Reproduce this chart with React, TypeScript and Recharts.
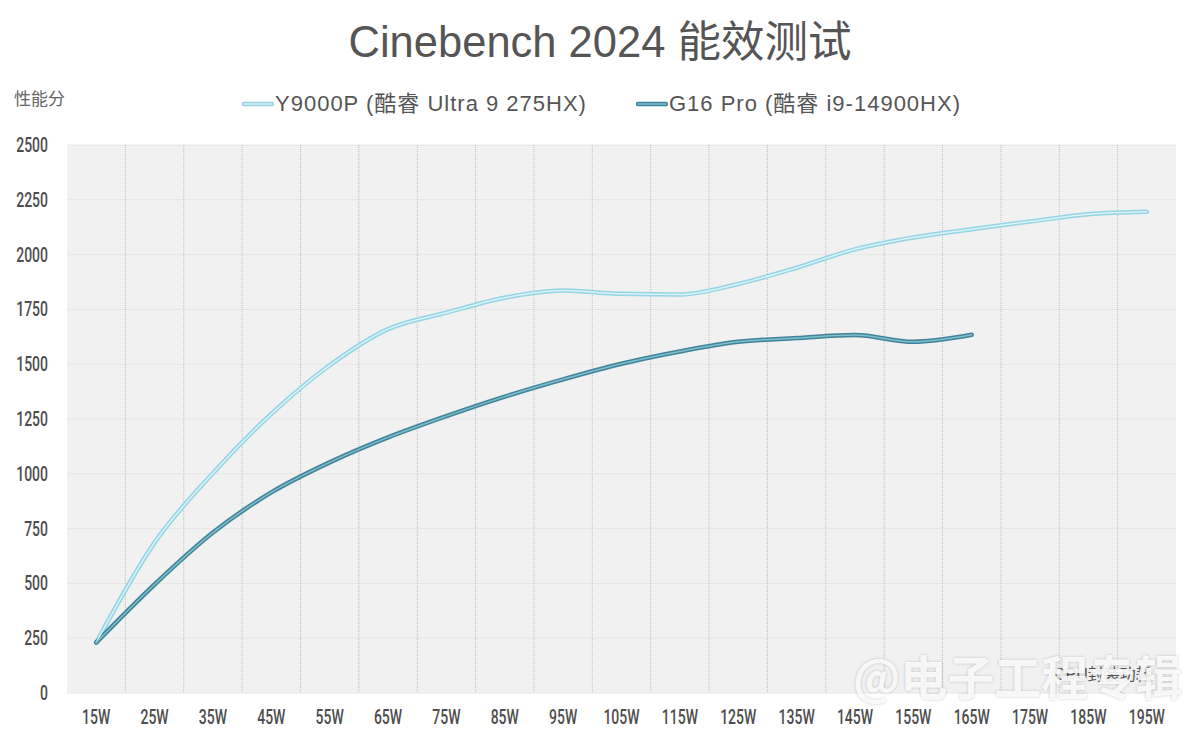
import React from 'react';
import { LineChart, Line, XAxis, YAxis, CartesianGrid } from 'recharts';

const powerLevels = ['15W', '25W', '35W', '45W', '55W', '65W', '75W', '85W', '95W', '105W', '115W', '125W', '135W', '145W', '155W', '165W', '175W', '185W', '195W'];
const y9000pScores = [230, 686, 1003, 1273, 1495, 1660, 1735, 1803, 1836, 1821, 1818, 1866, 1940, 2024, 2078, 2116, 2151, 2184, 2195];
const g16ProScores = [230, 495, 732, 915, 1052, 1166, 1263, 1352, 1431, 1502, 1558, 1602, 1619, 1633, 1602, 1634, null, null, null];
const yTicks = [0, 250, 500, 750, 1000, 1250, 1500, 1750, 2000, 2250, 2500];

const seriesInfo = [
  { key: 'y9000p', name: 'Y9000P (酷睿 Ultra 9 275HX)', outer: '#93d4e6', inner: '#dcf3f8', legendX: 242 },
  { key: 'g16', name: 'G16 Pro (酷睿 i9-14900HX)', outer: '#3f8499', inner: '#80bdce', legendX: 636 },
];

const data = powerLevels.map((p, i) => ({
  power: p,
  y9000p: y9000pScores[i],
  g16: g16ProScores[i],
}));

const CHART_W = 1200;
const CHART_H = 740;
const MARGIN = { top: 145, right: 24, bottom: 0, left: 0 };
const Y_AXIS_W = 67;
const X_AXIS_H = 47;
const plotWidth = CHART_W - MARGIN.left - MARGIN.right - Y_AXIS_W;
const halfBand = plotWidth / powerLevels.length / 2;

const uiFont = '"Liberation Sans", "Noto Sans CJK SC", sans-serif';

// narrow, DIN-like tick labels
function CondensedTick({ x, y, payload, anchor, dy }: any) {
  return (
    <g transform={`translate(${x},${y})`}>
      <text
        transform="scale(0.7,1)"
        textAnchor={anchor}
        dy={dy}
        fill="#4d4d4d"
        fontFamily="Roboto, sans-serif"
        fontWeight={500}
        fontSize={20}
      >
        {payload.value}
      </text>
    </g>
  );
}

export default function App() {
  return (
    <div style={{ position: 'absolute', left: 0, top: 0, width: CHART_W, height: CHART_H, background: '#fff', overflow: 'hidden' }}>
      <div style={{ position: 'absolute', top: 21, width: CHART_W, textAlign: 'center', fontFamily: uiFont, fontSize: 43.5, lineHeight: 1, color: '#555' }}>
        Cinebench 2024 能效测试
      </div>
      <div style={{ position: 'absolute', left: 14, top: 91, fontFamily: uiFont, fontSize: 17, lineHeight: 1, color: '#666' }}>
        性能分
      </div>
      {seriesInfo.map((s) => (
        <div key={s.key} style={{ position: 'absolute', left: s.legendX, top: 93, display: 'flex', alignItems: 'center', fontFamily: uiFont, fontSize: 22, lineHeight: 1, letterSpacing: 1, color: '#555', whiteSpace: 'nowrap' }}>
          <svg width={32} height={10} style={{ marginRight: 1 }}>
            <line x1={2} y1={5} x2={30} y2={5} stroke={s.outer} strokeWidth={4.5} strokeLinecap="round" />
            <line x1={2} y1={5} x2={30} y2={5} stroke={s.inner} strokeWidth={1.5} strokeLinecap="round" />
          </svg>
          <span>{s.name}</span>
        </div>
      ))}
      <LineChart width={CHART_W} height={CHART_H} data={data} margin={MARGIN}>
        <CartesianGrid vertical={false} stroke="#e6e6e6" fill="#f1f1f1" />
        <CartesianGrid
          horizontal={false}
          stroke="#bdbdbd"
          strokeDasharray="1 1"
          verticalCoordinatesGenerator={({ offset }: any) =>
            powerLevels.slice(1).map((_, i) => offset.left + ((i + 1) * offset.width) / powerLevels.length)
          }
        />
        <XAxis
          dataKey="power"
          height={X_AXIS_H}
          axisLine={false}
          tickLine={false}
          tickSize={0}
          tickMargin={0}
          interval={0}
          padding={{ left: halfBand, right: halfBand }}
          tick={<CondensedTick anchor="middle" dy={31} />}
        />
        <YAxis
          domain={[0, 2500]}
          ticks={yTicks}
          width={Y_AXIS_W}
          axisLine={false}
          tickLine={false}
          tickSize={0}
          tickMargin={0}
          tick={(props: any) => <CondensedTick {...props} x={props.x - 19} anchor="end" dy={7} />}
        />
        {seriesInfo.map((s) => (
          <Line
            key={s.key + '-outer'}
            type="monotone"
            dataKey={s.key}
            stroke={s.outer}
            strokeWidth={4.5}
            strokeLinecap="round"
            dot={false}
            activeDot={false}
            legendType="none"
            isAnimationActive={false}
          />
        ))}
        {seriesInfo.map((s) => (
          <Line
            key={s.key + '-inner'}
            type="monotone"
            dataKey={s.key}
            stroke={s.inner}
            strokeWidth={1.5}
            strokeLinecap="round"
            dot={false}
            activeDot={false}
            legendType="none"
            isAnimationActive={false}
          />
        ))}
      </LineChart>
      <div style={{ position: 'absolute', left: 1054, top: 667, fontFamily: uiFont, fontSize: 16, lineHeight: 1, color: '#555' }}>
        CPU封装功耗
      </div>
      <div
        style={{
          position: 'absolute',
          left: 853,
          top: 651,
          fontFamily: '"Noto Sans CJK SC", sans-serif',
          fontWeight: 700,
          fontSize: 47,
          lineHeight: 1,
          color: 'rgba(255,255,255,0.88)',
          textShadow: '0 0 3px rgba(0,0,0,0.22)',
          whiteSpace: 'nowrap',
        }}
      >
        @电子工程专辑
      </div>
    </div>
  );
}
